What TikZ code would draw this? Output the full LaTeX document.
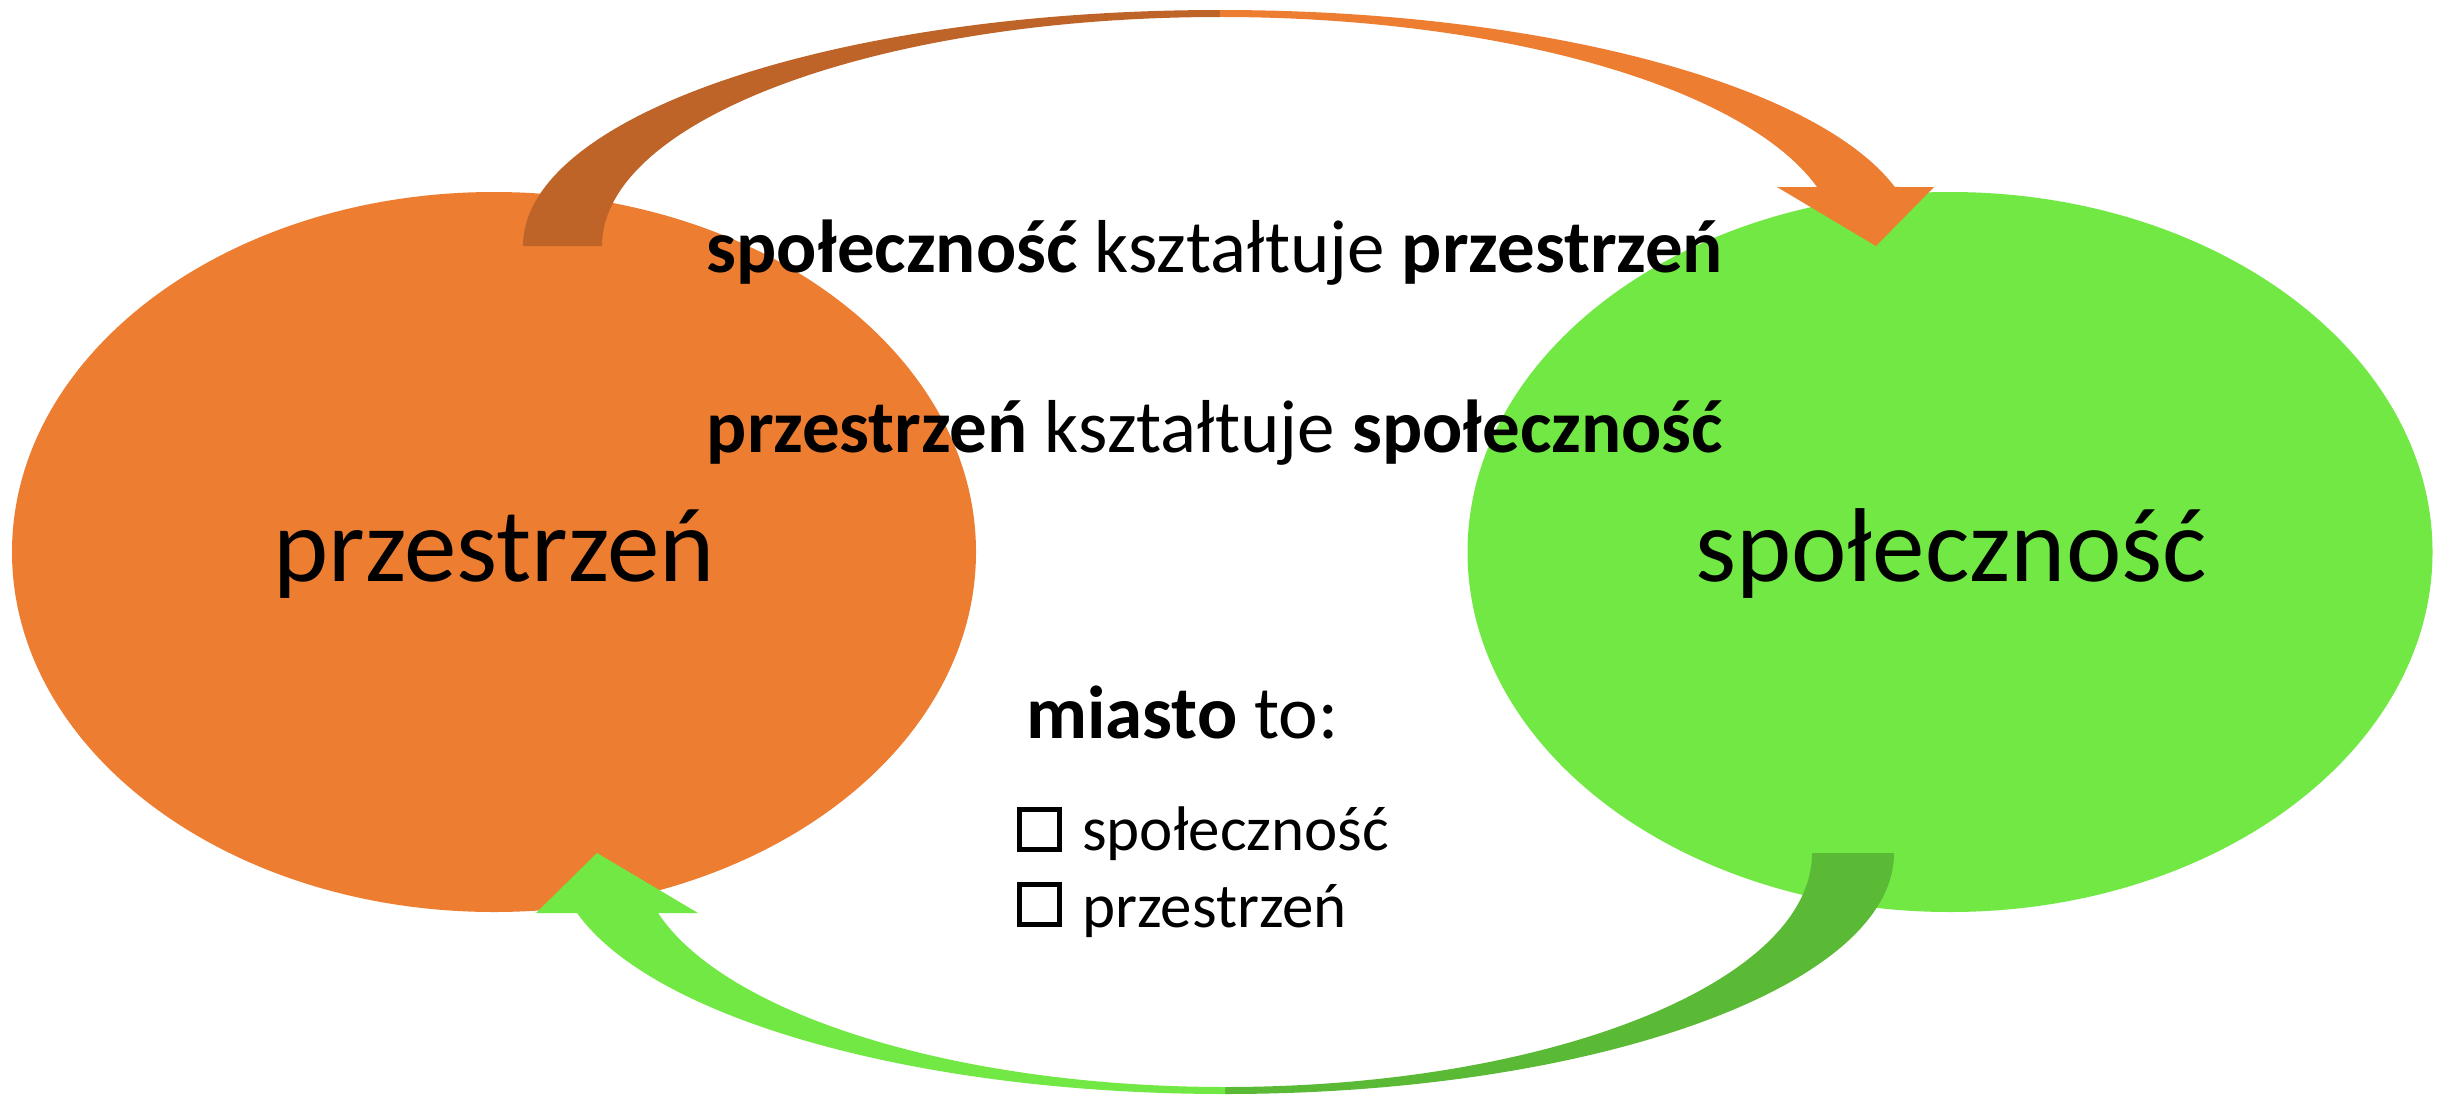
\documentclass[tikz,border=0pt]{standalone}
\usepackage{fontspec}
\setmainfont{Carlito}
\usetikzlibrary{shapes.geometric}
\definecolor{orng}{HTML}{ED7D31}
\definecolor{orngdark}{HTML}{BF6428}
\definecolor{grn}{HTML}{71E843}
\definecolor{grndark}{HTML}{5BBA35}
\begin{document}
\begin{tikzpicture}[x=1pt,y=-1pt,
  blob/.style={ellipse, minimum width=964pt, minimum height=720pt, inner sep=0pt, draw=none},
  biglbl/.style={inner sep=0pt, font=\fontsize{105}{126}\selectfont, anchor=base},
  midlbl/.style={inner sep=0pt, font=\fontsize{75}{90}\selectfont, anchor=base},
  itemlbl/.style={inner sep=0pt, font=\fontsize{63}{76}\selectfont, anchor=base west},
  cbox/.style={rectangle, draw=black, line width=5pt, minimum size=40pt, inner sep=0pt}]
\fill[white] (0,0) rectangle (2447,1095);
\useasboundingbox (0,0) rectangle (2447,1095);

% ellipses
\node[blob, fill=orng] (przE) at (494,552) {};
\node[blob, fill=grn, minimum width=965pt] (spoE) at (1950,552) {};

% top curved arrow (back part, then front part with head)
\coordinate (tTailO) at (523,246);
\coordinate (tTopI) at (1220,17);
\fill[orngdark] (tTailO) arc[start angle=180,end angle=270,x radius=697,y radius=236] coordinate (tTopO)
  -- (tTopI) arc[start angle=270,end angle=180,x radius=618,y radius=229] -- cycle;
\coordinate (tHeadL) at (1777,187);
\coordinate (tHeadR) at (1934,187);
\coordinate (tTip) at (1876,246);
\coordinate (tShaftI) at (1817,187);
\fill[orng] (tTopO) arc[start angle=270,end angle=345.52,x radius=697,y radius=236]
  -- (tHeadR) -- (tTip) -- (tHeadL) -- (tShaftI)
  arc[start angle=345.07,end angle=270,x radius=618,y radius=229] -- cycle;

% bottom curved arrow
\coordinate (bTailO) at (1894,853);
\coordinate (bBotI) at (1225,1087);
\fill[grndark] (bTailO) arc[start angle=0,end angle=90,x radius=669,y radius=241] coordinate (bBotO)
  -- (bBotI) arc[start angle=90,end angle=0,x radius=587,y radius=234] -- cycle;
\coordinate (bHeadL) at (536,913);
\coordinate (bHeadR) at (698,913);
\coordinate (bTip) at (597,853);
\coordinate (bShaftI) at (658,913);
\fill[grn] (bBotO) arc[start angle=90,end angle=165.58,x radius=669,y radius=241]
  -- (bHeadL) -- (bTip) -- (bHeadR) -- (bShaftI)
  arc[start angle=165.14,end angle=90,x radius=587,y radius=234] -- cycle;

% labels
\node[biglbl] (przT) at (494,581) {przestrzeń};
\node[biglbl] (spoT) at (1951,581) {społeczność};
\node[midlbl] (line1) at (1215,272) {\textbf{społeczność} kształtuje \textbf{przestrzeń}};
\node[midlbl] (line2) at (1215,452) {\textbf{przestrzeń} kształtuje \textbf{społeczność}};
\node[midlbl, anchor=base west] (miasto) at (1026,738) {\textbf{miasto} to:};
\node[cbox] (box1) at (1039.5,829) {};
\node[cbox] (box2) at (1039.5,904.5) {};
\node[itemlbl] (opt1) at (1082,850) {społeczność};
\node[itemlbl] (opt2) at (1082,927) {przestrzeń};
\end{tikzpicture}
\end{document}
